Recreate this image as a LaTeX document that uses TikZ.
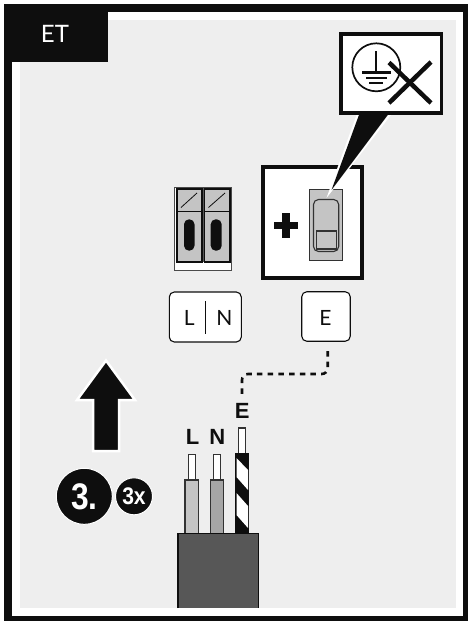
\documentclass[tikz,border=0pt]{standalone}
\usepackage{fontspec}
\setmainfont{Liberation Sans}
\newfontfamily\lightfont{Lato}
\definecolor{ink}{HTML}{0E0E0E}
\definecolor{panel}{HTML}{EEEEEE}
\definecolor{metal}{HTML}{C4C4C4}
\definecolor{wireN}{HTML}{A6A6A6}
\definecolor{sheath}{HTML}{575757}
\tikzset{
 keybox/.style={draw=ink,line width=1.1pt,fill=white,rounded corners=5pt,inner sep=0pt},
 keytext/.style={text=ink,font=\lightfont\fontsize{21}{21}\selectfont,inner sep=0pt},
 wirelabel/.style={text=ink,font=\fontsize{22}{22}\selectfont\bfseries,inner sep=0pt},
 core/.style={draw=ink!85,line width=1.1pt,fill=white},
 badge/.style={circle,fill=ink,draw=white,line width=1pt,text=white,inner sep=0pt}
}
\begin{document}
\begin{tikzpicture}[x=1pt,y=-1pt]
\useasboundingbox (0,0) rectangle (468,621);
\fill[white] (0,0) rectangle (468,621);
% frame
\fill[ink] (4,4) rectangle (468,621);
\fill[white] (12,12) rectangle (463,616);
\fill[panel] (20,20) rectangle (456,608);
\fill[ink] (4,4) rectangle (108,62);
\node[text=white,font=\lightfont\fontsize{24}{24}\selectfont,inner sep=0pt] (tag) at (55,34) {ET};
% left terminal block
\fill[white,draw=ink!75,line width=.9pt] (174,187.5) rectangle (231.5,270);
\fill[ink!70] (202,188) rectangle (204.5,262);
\foreach \a/\b in {177/202,204.5/230}{
 \fill[metal,draw=ink,line width=1.9pt] (\a,189) rectangle (\b,262);
 \draw[ink,line width=.9pt] (\a,211) -- (\b,211);
 \draw[ink,line width=.8pt] (\a+4,207.5) -- (\b-5,193);
}
\fill[ink,rounded corners=5pt] (184,219.3) rectangle (194.5,250.7);
\fill[ink,rounded corners=5pt] (210.7,219.3) rectangle (221.7,250.7);
% highlighted earth terminal
\draw[ink,line width=4pt,fill=white] (263,167) rectangle (362,278);
\fill[ink] (273.7,221.7) rectangle (298.3,229);
\fill[ink] (282.3,213.3) rectangle (289.7,237.7);
\fill[metal,draw=ink!85,line width=1.2pt] (309.5,189.5) rectangle (342.5,260.5);
\draw[ink!85,line width=1.1pt,fill=metal,rounded corners=5pt] (313.5,251.5) -- (313.5,199.5) -- (338.7,199.5) -- (338.7,251.5) -- cycle;
\draw[ink!85,line width=1.1pt] (316.5,231) rectangle (336.5,249);
% callout
\fill[white] (326.5,198) -- (356.5,115) -- (391,115) -- cycle;
\fill[ink] (331.5,190) -- (359.3,114) -- (388.5,114) -- cycle;
\draw[ink,line width=3.8pt,fill=white] (341,34) rectangle (441.5,113);
\draw[ink,line width=1.7pt] (376.3,67.3) circle (24);
\draw[ink,line width=1.7pt] (376.3,51) -- (376.3,72);
\draw[ink,line width=2.2pt] (362,72.5) -- (390.7,72.5);
\draw[ink,line width=2.2pt] (366,77.7) -- (386.7,77.7);
\draw[ink,line width=2.2pt] (369.3,82.7) -- (383.3,82.7);
\draw[ink,line width=4.5pt] (389,62.5) -- (431,103);
\draw[ink,line width=4.5pt] (431,62) -- (389,103);
% key boxes
\node[keybox,minimum width=72pt,minimum height=50pt] (ln) at (205.3,317) {};
\node[keytext] (l) at (189.3,318.3) {L};
\node[keytext] (n) at (224.3,318.3) {N};
\draw[ink,line width=.9pt] (205.3,301) -- (205.3,334.3);
\node[keybox,minimum width=48.5pt,minimum height=49.5pt] (e) at (326,316.5) {};
\node[keytext] (et) at (325.5,318) {E};
% wire labels
\node[wirelabel] (wl) at (192.7,437) {L};
\node[wirelabel] (wn) at (217.3,437) {N};
\node[wirelabel] (we) at (242.3,411) {E};
% dashed wire
\coordinate (es) at (327.7,351);
\coordinate (ew) at (242,395);
\draw[ink,line width=2.6pt,dash pattern=on 5.5pt off 5.2pt,rounded corners=6pt] (es) -- (327.7,374) -- (242,374) -- (ew);
% arrow
\fill[ink,draw=white,line width=2.5pt,miter limit=10] (93,451) -- (93,400) -- (77,400) -- (106,360.5) -- (135,400) -- (119,400) -- (119,451) -- cycle;
% badges
\node[badge,minimum size=56pt] (three) at (84.3,496.3) {\scalebox{.86}[1]{\fontsize{37}{37}\selectfont\bfseries 3.}};
\node[badge,minimum size=37pt] (times) at (134,496.3) {\scalebox{.88}[1]{\fontsize{24}{24}\selectfont\bfseries 3x}};
% wires
\draw[core] (188.5,454.5) rectangle (195.3,480);
\draw[core] (213.5,454.5) rectangle (220.7,480);
\draw[core] (238.3,428) rectangle (245.7,453.5);
\fill[metal,draw=ink!85,line width=1.1pt] (185,480) rectangle (198.5,534);
\fill[wireN,draw=ink!85,line width=1.1pt] (210.5,480) rectangle (223.7,534);
\begin{scope}
\clip (235,453) rectangle (249.3,534);
\fill[ink] (235,453) rectangle (249.3,534);
\fill[white] (236.5,458) -- (248,470) -- (248,490) -- (236.5,477) -- cycle;
\fill[white] (236.5,493) -- (248,506) -- (248,528) -- (236.5,515) -- cycle;
\end{scope}
\draw[ink,line width=1.6pt,fill=sheath] (178,608) -- (178,533.5) -- (258.5,533.5) -- (258.5,608);
\end{tikzpicture}
\end{document}
